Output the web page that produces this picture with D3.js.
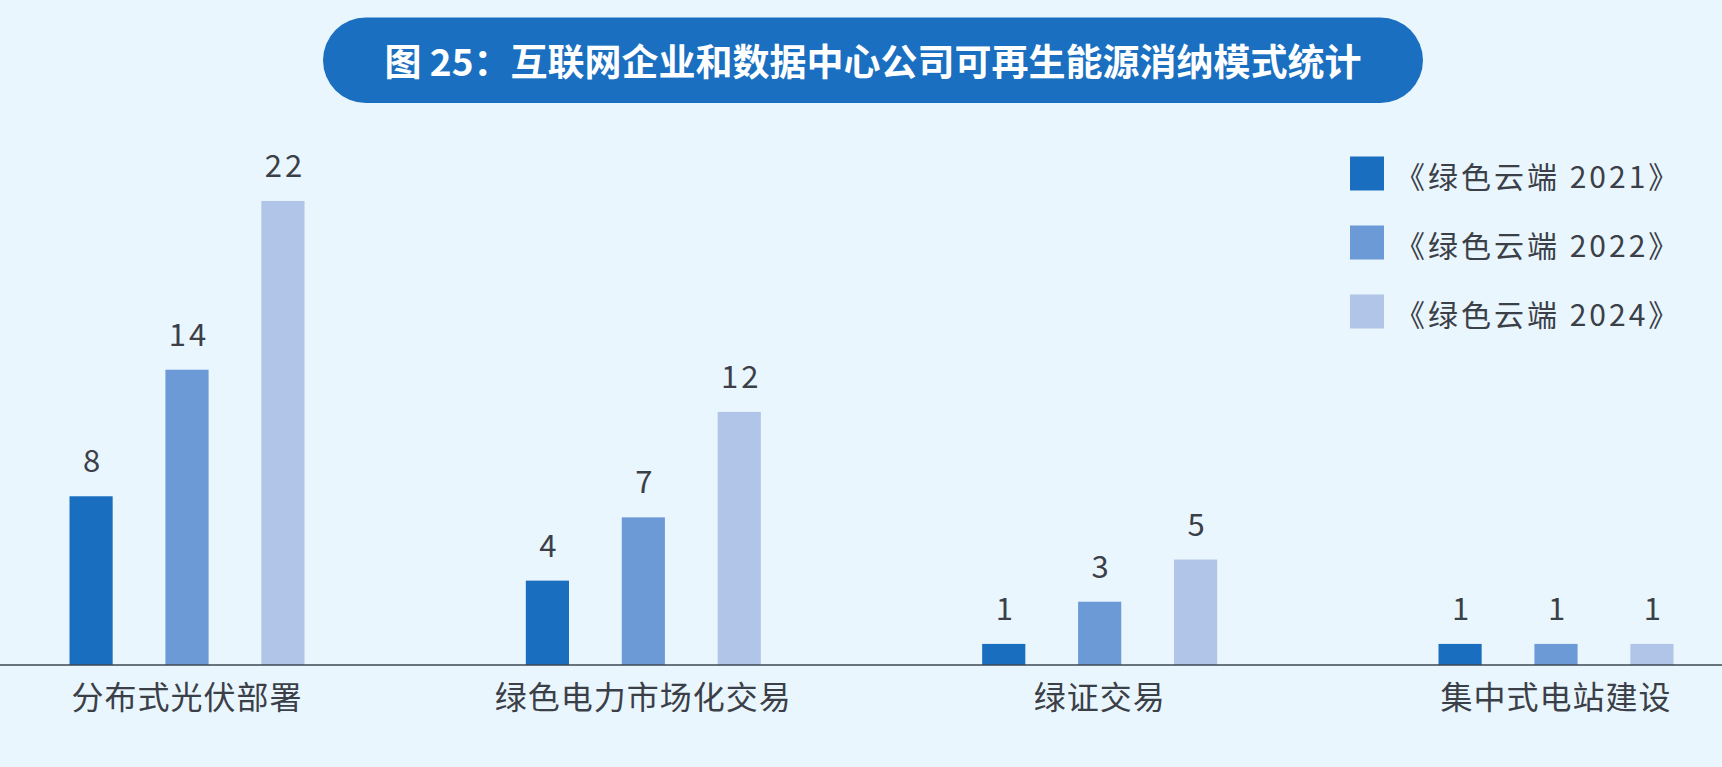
<!DOCTYPE html>
<html>
<head>
<meta charset="utf-8">
<script src="https://cdn.jsdelivr.net/npm/d3@7"></script>
<style>
      body { margin: 0; background: #eaf6fd; overflow: hidden; }
      svg { display: block; }
</style>
</head>
<body>
<script>
const categories = ["分布式光伏部署", "绿色电力市场化交易", "绿证交易", "集中式电站建设"];
const seriesNames = ["《绿色云端 2021》", "《绿色云端 2022》", "《绿色云端 2024》"];
const values2021 = [8, 4, 1, 1];
const values2022 = [14, 7, 3, 1];
const values2024 = [22, 12, 5, 1];
const titleText = "图 25：互联网企业和数据中心公司可再生能源消纳模式统计";

const width = 1722;
const height = 767;
const colors = ["#1a6ebf", "#6b9ad7", "#b1c5e8"];
const textColor = "#3b4048";
const fontFamily = "'Noto Sans CJK SC', 'Noto Sans', sans-serif";

const baseline = 665;
const plotTop = 201;

const seriesValues = [values2021, values2022, values2024];

// one record per bar
const bars = [];
categories.forEach((cat, i) => {
      seriesNames.forEach((name, j) => {
            bars.push({category: cat, series: name, value: seriesValues[j][i], idx: j});
      });
});

const svg = d3.select("body")
      .append("svg")
      .attr("width", width)
      .attr("height", height);

svg.append("rect")
      .attr("width", width)
      .attr("height", height)
      .attr("fill", "#eaf6fd");

// title pill
svg.append("rect")
      .attr("x", 323)
      .attr("y", 17.5)
      .attr("width", 1100)
      .attr("height", 85.5)
      .attr("rx", 42.75)
      .attr("fill", "#1a6fc0");

svg.append("text")
      .attr("x", 873)
      .attr("y", 60)
      .attr("text-anchor", "middle")
      .attr("dominant-baseline", "central")
      .attr("fill", "#ffffff")
      .style("font-family", fontFamily)
      .style("font-weight", "bold")
      .style("font-size", "37px")
      .text(titleText);

const x0 = d3.scalePoint()
      .domain(categories)
      .range([187, 1556]);

const x1 = d3.scaleBand()
      .domain(seriesNames)
      .range([-117.5, 117.5])
      .paddingInner(0.55)
      .paddingOuter(0);

const yScale = d3.scaleLinear()
      .domain([0, 22])
      .range([baseline, plotTop]);

svg.selectAll("rect.bar")
      .data(bars)
      .enter()
      .append("rect")
      .attr("class", "bar")
      .attr("x", d => x0(d.category) + x1(d.series))
      .attr("y", d => yScale(d.value))
      .attr("width", x1.bandwidth())
      .attr("height", d => baseline - yScale(d.value))
      .attr("fill", d => colors[d.idx]);

svg.selectAll("text.value")
      .data(bars)
      .enter()
      .append("text")
      .attr("class", "value")
      .attr("x", d => x0(d.category) + x1(d.series) + x1.bandwidth() / 2 + 2)
      .attr("y", d => yScale(d.value) - 24)
      .attr("text-anchor", "middle")
      .attr("fill", textColor)
      .style("font-family", fontFamily)
      .style("font-size", "31px")
      .style("letter-spacing", "3px")
      .text(d => d.value);

// x axis: full width line with category labels
const xAxis = svg.append("g")
      .attr("transform", `translate(0, ${baseline})`);

xAxis.append("line")
      .attr("x1", 0)
      .attr("x2", width)
      .attr("stroke", "#3d4752")
      .attr("stroke-width", 1.5);

xAxis.selectAll("text")
      .data(categories)
      .enter()
      .append("text")
      .attr("x", d => x0(d))
      .attr("y", 44)
      .attr("text-anchor", "middle")
      .attr("fill", textColor)
      .style("font-family", fontFamily)
      .style("font-size", "32px")
      .style("letter-spacing", "1px")
      .text(d => d);

// legend
const legendY = d3.scalePoint()
      .domain(seriesNames)
      .range([173.5, 311.5]);

const legend = svg.selectAll("g.legend")
      .data(seriesNames)
      .enter()
      .append("g")
      .attr("class", "legend")
      .attr("transform", d => `translate(1350, ${legendY(d)})`);

legend.append("rect")
      .attr("x", 0)
      .attr("y", -17)
      .attr("width", 34)
      .attr("height", 34)
      .attr("fill", (d, i) => colors[i]);

legend.append("text")
      .attr("x", 45)
      .attr("y", 1)
      .attr("dominant-baseline", "central")
      .attr("fill", textColor)
      .style("font-family", fontFamily)
      .style("font-size", "30px")
      .style("letter-spacing", "3px")
      .text(d => d);
</script>
</body>
</html>
